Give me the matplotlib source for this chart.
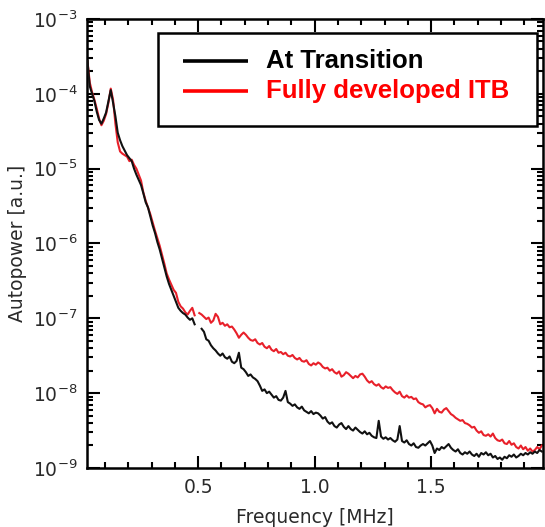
import numpy as np
import matplotlib
matplotlib.use("Agg")
import matplotlib.pyplot as plt
from matplotlib.ticker import MultipleLocator, FormatStrFormatter, LogLocator, NullFormatter, FixedLocator
from matplotlib.patches import Rectangle

# Frequency grid [MHz]
freq = np.round(0.025 + 0.01 * np.arange(196), 3)

# log10 of autopower
transition_log = [
    -3.56, -3.90, -4.00, -4.10, -4.24, -4.35, -4.40, -4.33, -4.25, -4.10,
    -3.95, -4.12, -4.30, -4.52, -4.62, -4.70, -4.76, -4.82, -4.86, -4.90,
    -5.00, -5.08, -5.15, -5.22, -5.33, -5.45, -5.52, -5.64, -5.76, -5.86,
    -5.98, -6.08, -6.20, -6.32, -6.44, -6.54, -6.62, -6.70, -6.78, -6.86,
    -6.90, -6.93, -6.95, -6.99, -7.02, -7.00, -7.08, np.nan, np.nan, -7.14,
    -7.18, -7.28, -7.30, -7.36, -7.40, -7.43, -7.47, -7.50, -7.47, -7.52,
    -7.54, -7.51, -7.58, -7.60, -7.57, -7.46, -7.66, -7.68, -7.72, -7.77,
    -7.75, -7.79, -7.81, -7.84, -7.90, -7.97, -7.95, -8.00, -7.98, -8.02,
    -8.06, -8.04, -8.09, -8.10, -8.06, -7.97, -8.12, -8.14, -8.17, -8.15,
    -8.19, -8.21, -8.18, -8.23, -8.25, -8.27, -8.24, -8.28, -8.26, -8.27,
    -8.30, -8.34, -8.32, -8.38, -8.41, -8.39, -8.44, -8.46, -8.42, -8.40,
    -8.45, -8.48, -8.44, -8.48, -8.50, -8.46, -8.49, -8.52, -8.54, -8.51,
    -8.55, -8.53, -8.57, -8.59, -8.60, -8.37, -8.58, -8.61, -8.59, -8.62,
    -8.60, -8.63, -8.65, -8.62, -8.44, -8.64, -8.66, -8.63, -8.68, -8.70,
    -8.67, -8.72, -8.73, -8.70, -8.68, -8.70, -8.67, -8.64, -8.70, -8.80,
    -8.74, -8.76, -8.72, -8.74, -8.71, -8.68, -8.73, -8.76, -8.78, -8.75,
    -8.80, -8.82, -8.79, -8.81, -8.78, -8.82, -8.84, -8.81, -8.85, -8.80,
    -8.82, -8.79, -8.83, -8.81, -8.86, -8.84, -8.88, -8.86, -8.89, -8.85,
    -8.87, -8.83, -8.85, -8.82, -8.86, -8.84, -8.81, -8.83, -8.80, -8.82,
    -8.79, -8.81, -8.78, -8.80, -8.76, -8.78,
]

itb_log = [
    -3.56, -3.85, -3.98, -4.08, -4.20, -4.33, -4.42, -4.36, -4.27, -4.12,
    -3.93, -4.08, -4.40, -4.65, -4.77, -4.80, -4.82, -4.84, -4.90, -4.88,
    -4.95, -5.00, -5.08, -5.16, -5.32, -5.43, -5.52, -5.61, -5.72, -5.83,
    -5.93, -6.03, -6.15, -6.27, -6.40, -6.48, -6.55, -6.62, -6.66, -6.78,
    -6.84, -6.87, -6.92, -6.95, -6.90, -6.86, -6.96, np.nan, -6.93, -6.95,
    -6.98, -7.01, -6.99, -7.06, -7.03, -6.94, -6.98, -7.08, -7.06, -7.10,
    -7.08, -7.12, -7.11, -7.15, -7.20, -7.26, -7.22, -7.19, -7.22, -7.26,
    -7.29, -7.30, -7.28, -7.33, -7.35, -7.33, -7.38, -7.40, -7.37, -7.42,
    -7.44, -7.41, -7.46, -7.45, -7.48, -7.46, -7.50, -7.51, -7.49, -7.53,
    -7.55, -7.53, -7.57, -7.58, -7.56, -7.61, -7.63, -7.60, -7.62, -7.59,
    -7.61, -7.65, -7.67, -7.66, -7.70, -7.68, -7.72, -7.74, -7.71, -7.78,
    -7.76, -7.72, -7.74, -7.77, -7.80, -7.77, -7.79, -7.75, -7.74, -7.78,
    -7.83, -7.86, -7.84, -7.88, -7.90, -7.88, -7.92, -7.94, -7.91, -7.93,
    -7.92, -7.96, -7.99, -8.01, -7.98, -8.04, -8.06, -8.03, -8.06, -8.05,
    -8.08, -8.07, -8.12, -8.14, -8.15, -8.19, -8.17, -8.16, -8.20, -8.27,
    -8.21, -8.25, -8.26, -8.22, -8.20, -8.24, -8.28, -8.30, -8.33, -8.35,
    -8.37, -8.36, -8.40, -8.41, -8.43, -8.46, -8.45, -8.50, -8.53, -8.51,
    -8.56, -8.57, -8.55, -8.58, -8.54, -8.60, -8.63, -8.64, -8.62, -8.67,
    -8.68, -8.64, -8.69, -8.67, -8.72, -8.74, -8.70, -8.75, -8.72, -8.77,
    -8.74, -8.78, -8.76, -8.72, -8.75, -8.70,
]

series_names = ["At Transition", "Fully developed ITB"]
series_colors = ["black", "#ff0000"]
xtick_values = [0.5, 1.0, 1.5]
ytick_values = [1e-9, 1e-8, 1e-7, 1e-6, 1e-5, 1e-4, 1e-3]

transition = 10.0 ** np.array(transition_log)
itb = 10.0 ** np.array(itb_log)

fig = plt.figure(figsize=(5.45, 5.27), dpi=100)
ax = fig.add_axes([0.1596, 0.112, 0.8367, 0.852])

ax.plot(freq, transition, color="#111111", lw=1.5, zorder=3)
ax.plot(freq, itb, color="#e8202a", lw=1.5, zorder=2)

ax.set_yscale("log")
ax.set_xlim(0.023, 1.98)
ax.set_ylim(1e-9, 1e-3)

ax.xaxis.set_major_locator(FixedLocator(xtick_values))
ax.xaxis.set_major_formatter(FormatStrFormatter("%.1f"))
ax.xaxis.set_minor_locator(MultipleLocator(0.1))
ax.yaxis.set_major_locator(FixedLocator(ytick_values))
ax.yaxis.set_major_formatter(matplotlib.ticker.LogFormatterSciNotation())
ax.yaxis.set_minor_locator(LogLocator(base=10, subs=np.arange(2, 10), numticks=20))
ax.yaxis.set_minor_formatter(NullFormatter())

label_color = "#2a2a2a"
ax.tick_params(which="both", direction="in", top=True, right=True,
               colors="black", labelcolor=label_color, labelsize=13.5, width=1.5)
ax.tick_params(which="major", length=9)
ax.tick_params(which="minor", length=4.5)
ax.tick_params(axis="x", which="major", pad=7)
ax.tick_params(axis="y", which="major", pad=7)
for s in ax.spines.values():
    s.set_linewidth(1.8)

ax.set_xlabel("Frequency [MHz]", fontsize=13.5, color=label_color, labelpad=8)
ax.set_ylabel("Autopower [a.u.]", fontsize=13.5, color=label_color, labelpad=4)

# legend box
ax.add_patch(Rectangle((0.156, 0.762), 0.831, 0.207, transform=ax.transAxes,
                       fill=True, facecolor="white", edgecolor="black", lw=1.8, zorder=5))
ys = [0.907, 0.840]
for name, col, yy in zip(series_names, series_colors, ys):
    ax.plot([0.2105, 0.353], [yy, yy], transform=ax.transAxes, color=col, lw=2.6, zorder=6,
            solid_capstyle="butt")
    ax.text(0.3925, yy, name, transform=ax.transAxes, color=col, fontsize=18.5,
            fontweight="bold", family="Liberation Sans", va="center", ha="left", zorder=6)

fig.savefig("out.png", dpi=100)
